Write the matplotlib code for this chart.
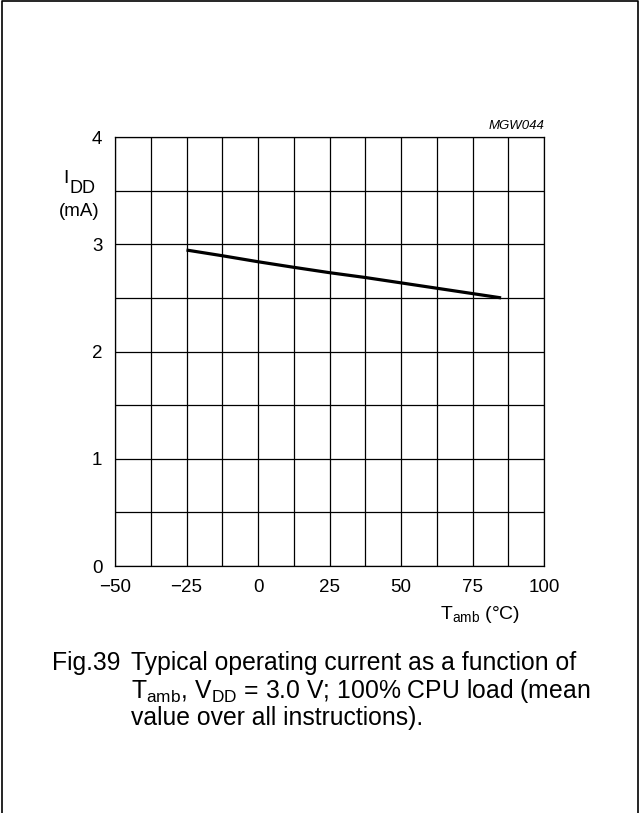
import matplotlib
matplotlib.use('Agg')
import matplotlib.pyplot as plt
from matplotlib.lines import Line2D

plt.rcParams['font.family'] = ['Liberation Sans', 'DejaVu Sans']
plt.rcParams['mathtext.fontset'] = 'custom'
plt.rcParams['mathtext.rm'] = 'Liberation Sans'
plt.rcParams['mathtext.it'] = 'Liberation Sans:italic'
plt.rcParams['mathtext.default'] = 'rm'

# curve
tamb = [-25, -12.5, 0, 12.5, 25, 37.5, 50, 62.5, 75, 85]
idd = [2.946, 2.893, 2.837, 2.785, 2.735, 2.69, 2.64, 2.59, 2.54, 2.50]

xticks = [-50, -25, 0, 25, 50, 75, 100]
yticks = [0, 1, 2, 3, 4]

fig = plt.figure(figsize=(6.39, 8.13), dpi=100)
ax = fig.add_axes([115 / 639, 247 / 813, 429 / 639, 429 / 813])

ax.plot(tamb, idd, color='black', lw=2.3, solid_capstyle='butt', zorder=3)

ax.set_xlim(-50, 100)
ax.set_ylim(0, 4)
# grid every 12.5 degC and 0.5 mA, labels only on the major values
ax.set_xticks([x / 2 for x in range(-100, 201, 25)])
ax.set_yticks([y / 2 for y in range(0, 9)])
ax.grid(True, color='black', lw=0.9)
ax.tick_params(length=0, labelsize=13.5)
ax.tick_params(axis='x', pad=9)
ax.tick_params(axis='y', pad=9)
ax.set_xticklabels([(str(int(v)).replace('-', '\u2212') if v in xticks else '')
                    for v in ax.get_xticks()])
ax.set_yticklabels([(str(int(v)) if v in yticks else '') for v in ax.get_yticks()])
for s in ax.spines.values():
    s.set_linewidth(0.9)

ax.text(1.0, 1.012, 'MGW044', transform=ax.transAxes, ha='right', va='bottom',
        fontsize=9.5, style='italic')
ax.text(-0.114, 0.904, 'I', transform=ax.transAxes, ha='center',
        va='center', fontsize=14)
ax.text(-0.107, 0.879, 'DD', transform=ax.transAxes, ha='left',
        va='center', fontsize=13)
ax.text(-0.084, 0.8275, '(mA)', transform=ax.transAxes, ha='center',
        va='center', fontsize=13.5)
ax.text(0.851, -0.112, r'T$_{amb}$ (°C)', transform=ax.transAxes, ha='center',
        va='center', fontsize=14)

# caption
fs = 17.8
fig.text(52 / 639, 1 - 663 / 813, 'Fig.39', fontsize=fs, va='center')
fig.text(131 / 639, 1 - 663 / 813, 'Typical operating current as a function of',
         fontsize=fs, va='center')
fig.text(131 / 639, 1 - 691 / 813,
         r'T$_{amb}$, V$_{DD}$ = 3.0 V; 100% CPU load (mean', fontsize=fs,
         va='center')
fig.text(131 / 639, 1 - 718 / 813, 'value over all instructions).',
         fontsize=fs, va='center')

# frame around the figure (open at the bottom)
fig.add_artist(Line2D([1.5 / 639, 1.5 / 639, 637.5 / 639, 637.5 / 639],
                      [0, 1 - 1.5 / 813, 1 - 1.5 / 813, 0],
                      transform=fig.transFigure, color='black', lw=1.2))

fig.savefig('out.png', dpi=100)
